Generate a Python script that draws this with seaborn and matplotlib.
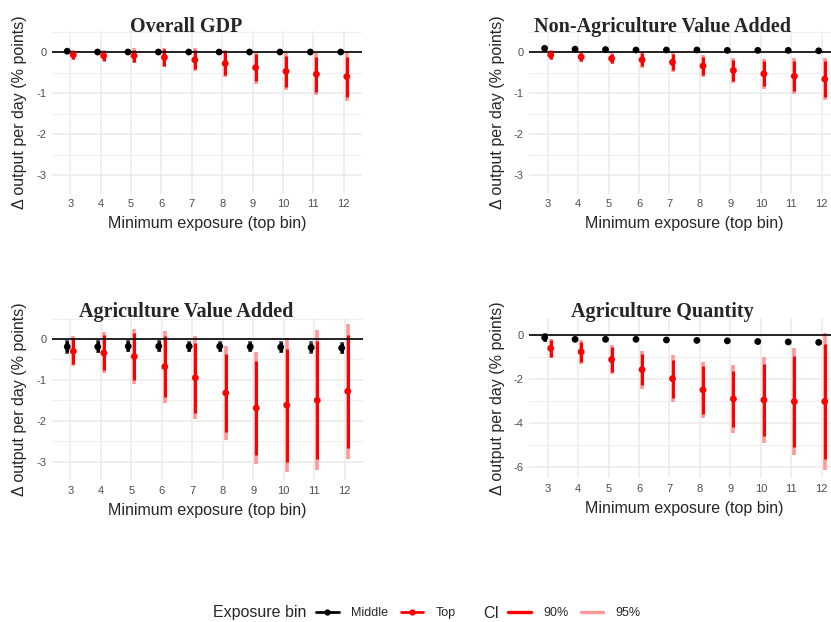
import numpy as np
import pandas as pd
import matplotlib
matplotlib.use("Agg")
import matplotlib.pyplot as plt
from matplotlib.lines import Line2D
from matplotlib.ticker import MultipleLocator
import seaborn as sns

# ---- data -------------------------------------------------------------
exposure = [3, 4, 5, 6, 7, 8, 9, 10, 11, 12]
bins = ["Middle", "Top"]
ci_levels = ["90%", "95%"]

titles = ["Overall GDP", "Non-Agriculture Value Added",
          "Agriculture Value Added", "Agriculture Quantity"]

# point estimates and CI half-widths (90% / 95%) for each exposure bin
gdp_mid = [0.02, 0.0, 0.0, 0.0, 0.0, 0.0, 0.0, 0.0, 0.0, 0.0]
gdp_mid_h90 = [0.04, 0.03, 0.03, 0.03, 0.03, 0.03, 0.03, 0.03, 0.03, 0.03]
gdp_mid_h95 = [0.05, 0.04, 0.04, 0.04, 0.04, 0.04, 0.04, 0.04, 0.04, 0.04]
gdp_top = [-0.07, -0.09, -0.09, -0.13, -0.19, -0.28, -0.38, -0.47, -0.54, -0.60]
gdp_top_h90 = [0.10, 0.12, 0.15, 0.20, 0.23, 0.28, 0.32, 0.38, 0.43, 0.49]
gdp_top_h95 = [0.12, 0.14, 0.18, 0.24, 0.28, 0.33, 0.39, 0.45, 0.52, 0.59]

nonag_mid = [0.09, 0.07, 0.06, 0.05, 0.05, 0.05, 0.04, 0.04, 0.04, 0.03]
nonag_mid_h90 = [0.05, 0.03, 0.03, 0.03, 0.03, 0.03, 0.03, 0.03, 0.03, 0.03]
nonag_mid_h95 = [0.06, 0.04, 0.04, 0.04, 0.04, 0.04, 0.04, 0.04, 0.04, 0.04]
nonag_top = [-0.07, -0.12, -0.16, -0.19, -0.25, -0.34, -0.45, -0.53, -0.59, -0.66]
nonag_top_h90 = [0.10, 0.10, 0.115, 0.155, 0.20, 0.22, 0.25, 0.31, 0.37, 0.43]
nonag_top_h95 = [0.12, 0.12, 0.14, 0.19, 0.24, 0.26, 0.30, 0.37, 0.44, 0.52]

agva_mid = [-0.19, -0.19, -0.18, -0.18, -0.18, -0.18, -0.19, -0.20, -0.21, -0.22]
agva_mid_h90 = [0.14, 0.13, 0.12, 0.12, 0.11, 0.11, 0.11, 0.12, 0.12, 0.12]
agva_mid_h95 = [0.17, 0.16, 0.15, 0.15, 0.14, 0.14, 0.14, 0.15, 0.15, 0.15]
agva_top = [-0.30, -0.34, -0.43, -0.68, -0.95, -1.32, -1.69, -1.62, -1.50, -1.28]
agva_top_h90 = [0.32, 0.43, 0.58, 0.75, 0.86, 0.96, 1.16, 1.38, 1.44, 1.38]
agva_top_h95 = [0.37, 0.50, 0.68, 0.88, 1.02, 1.15, 1.38, 1.64, 1.71, 1.65]

agq_mid = [-0.12, -0.20, -0.20, -0.20, -0.23, -0.25, -0.27, -0.30, -0.32, -0.34]
agq_mid_h90 = [0.17, 0.06, 0.06, 0.06, 0.06, 0.06, 0.06, 0.06, 0.06, 0.06]
agq_mid_h95 = [0.21, 0.07, 0.07, 0.07, 0.07, 0.07, 0.07, 0.07, 0.07, 0.07]
agq_top = [-0.61, -0.77, -1.12, -1.58, -1.99, -2.50, -2.91, -2.96, -3.03, -3.03]
agq_top_h90 = [0.38, 0.46, 0.56, 0.71, 0.87, 1.08, 1.29, 1.63, 2.07, 2.60]
agq_top_h95 = [0.44, 0.54, 0.67, 0.87, 1.06, 1.28, 1.53, 1.95, 2.45, 3.10]

panels = [
    (gdp_mid, gdp_mid_h90, gdp_mid_h95, gdp_top, gdp_top_h90, gdp_top_h95),
    (nonag_mid, nonag_mid_h90, nonag_mid_h95, nonag_top, nonag_top_h90, nonag_top_h95),
    (agva_mid, agva_mid_h90, agva_mid_h95, agva_top, agva_top_h90, agva_top_h95),
    (agq_mid, agq_mid_h90, agq_mid_h95, agq_top, agq_top_h90, agq_top_h95),
]

# ---- style ------------------------------------------------------------
sns.set_theme(style="whitegrid")
plt.rcParams["font.family"] = ["Liberation Sans", "DejaVu Sans"]
plt.rcParams["axes.unicode_minus"] = False

bin_colors = {"Middle": "#000000", "Top": "#FF0000"}
ci95_colors = {"Middle": "#555555", "Top": "#FF9999"}
dodge = {"Middle": -0.1, "Top": 0.1}

W, H = 831, 622
fig = plt.figure(figsize=(W / 100, H / 100), dpi=100)


def px_rect(left, top, right, bottom):
    return [left / W, 1 - bottom / H, (right - left) / W, (bottom - top) / H]


# panel boxes in pixels (left, top, right, bottom), y-limits, y-tick step
layout = [
    ((52, 30.7, 362, 193.5), (-3.45, 0.52), 1.0),
    ((529.4, 30.7, 840, 193.5), (-3.45, 0.52), 1.0),
    ((52, 317.7, 363, 480), (-3.45, 0.52), 1.0),
    ((529.4, 318, 840, 478), (-6.51, 0.77), 2.0),
]
title_pos = [(186, 31.5), (662, 32), (186, 316.7), (662, 316.7)]

ylabel = "\u0394 output per day (% points)"
xlabel = "Minimum exposure (top bin)"

for k, (vals, (box, ylim, step)) in enumerate(zip(panels, layout)):
    mid, mid90, mid95, top, top90, top95 = vals
    df = pd.DataFrame({
        "exposure": exposure * 2,
        "bin": ["Middle"] * 10 + ["Top"] * 10,
        "est": mid + top,
        "h90": mid90 + top90,
        "h95": mid95 + top95,
    })
    df["xpos"] = df["exposure"] + df["bin"].map(dodge)

    ax = fig.add_axes(px_rect(*box))
    ax.set_xlim(2.4, 12.6)
    ax.set_ylim(*ylim)

    for b in bins:
        d = df[df["bin"] == b]
        ax.vlines(d["xpos"], d["est"] - d["h95"], d["est"] + d["h95"],
                  color=ci95_colors[b], lw=2.6, zorder=2)
        ax.vlines(d["xpos"], d["est"] - d["h90"], d["est"] + d["h90"],
                  color=bin_colors[b], lw=2.2, zorder=2.5)

    ax.axhline(0, color="black", lw=1.2, zorder=3)

    sns.scatterplot(data=df, x="xpos", y="est", hue="bin",
                    palette=bin_colors, s=24, linewidth=0,
                    legend=False, zorder=4, ax=ax)

    ax.set_xticks(exposure)
    ax.set_xticklabels([str(e) for e in exposure])
    ax.yaxis.set_major_locator(MultipleLocator(step))
    ax.yaxis.set_minor_locator(MultipleLocator(step / 2))
    ax.grid(which="major", color="#EBEBEB", lw=1.1)
    ax.grid(which="minor", axis="y", color="#EFEFEF", lw=0.7)
    ax.set_axisbelow(True)
    ax.tick_params(which="both", length=0, labelsize=8, labelcolor="#4D4D4D")
    ax.tick_params(axis="x", pad=4)
    ax.tick_params(axis="y", pad=4)
    for s in ax.spines.values():
        s.set_visible(False)
    ax.set_xlabel("")
    ax.set_ylabel("")
    ax.set_facecolor("white")

    left, t, right, bottom = box
    fig.text((left - 32) / W, 1 - ((t + bottom) / 2) / H, ylabel,
             rotation=90, ha="center", va="center", fontsize=11.5)
    fig.text(((left + right) / 2) / W, 1 - (bottom + 30) / H, xlabel,
             ha="center", va="center", fontsize=11.5)
    tx, ty = title_pos[k]
    fig.text(tx / W, 1 - ty / H, titles[k], ha="center", va="baseline",
             fontsize=14.5, fontweight="bold",
             family=["Liberation Serif", "DejaVu Serif"])

# ---- legend -----------------------------------------------------------
ly = 1 - 613 / H
bin_handles = [Line2D([], [], color=bin_colors[b], lw=2.0, marker="o", ms=3.5)
               for b in bins]
ci_handles = [Line2D([], [], color="#FF0000", lw=2.4),
              Line2D([], [], color="#FF9999", lw=2.4)]

fig.text(213 / W, ly, "Exposure bin", ha="left", va="center", fontsize=11.5)
fig.legend(bin_handles, bins, loc="center left", bbox_to_anchor=(316 / W, ly),
           ncol=2, frameon=False, fontsize=9, handlelength=1.8,
           handletextpad=1.0, columnspacing=1.0, borderpad=0, borderaxespad=0)
fig.text(483 / W, ly, "CI", ha="left", va="center", fontsize=11.5)
fig.legend(ci_handles, ci_levels, loc="center left", bbox_to_anchor=(508 / W, ly),
           ncol=2, frameon=False, fontsize=9, handlelength=1.8,
           handletextpad=1.0, columnspacing=1.0, borderpad=0, borderaxespad=0)

fig.savefig("out.png", dpi=100, facecolor="white")
